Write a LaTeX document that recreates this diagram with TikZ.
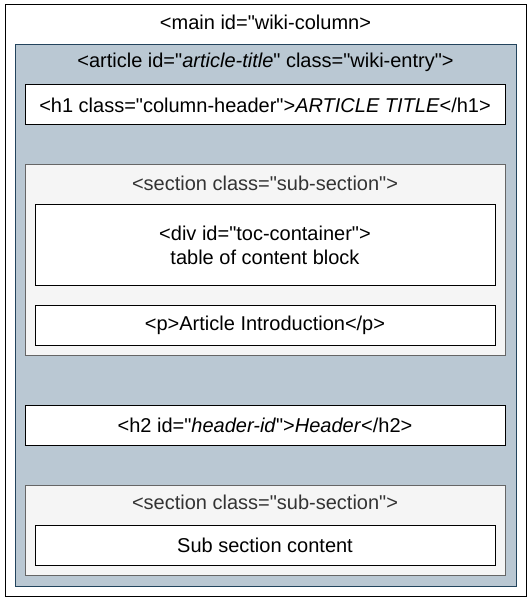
\documentclass[tikz,border=0pt]{standalone}
\usepackage{fontspec}
\setmainfont{Liberation Sans}
\definecolor{artfill}{HTML}{BAC8D3}
\definecolor{artline}{HTML}{23445D}
\definecolor{secfill}{HTML}{F5F5F5}
\definecolor{secline}{HTML}{666666}
\definecolor{sectext}{HTML}{333333}
\newcommand\qd{\textquotedbl}
\begin{document}
\begin{tikzpicture}[x=1pt,y=1pt,
  every node/.style={inner sep=0pt, outer sep=0pt, font=\fontsize{20}{24}\selectfont},
  box/.style={draw=black, fill=white, line width=1pt, anchor=north west},
  artbox/.style={draw=artline, fill=artfill, line width=1pt, anchor=north west},
  secbox/.style={draw=secline, fill=secfill, line width=1pt, anchor=north west},
  lbl/.style={text=black, align=center},
  seclbl/.style={text=sectext}]
\useasboundingbox (0,0) rectangle (531,-601);
\node[box, minimum width=521pt, minimum height=591pt] (main) at (5,-5) {};
\node[lbl] (mainlbl) at (265.5,-22) {<main id=\qd wiki-column>};
\node[artbox, minimum width=501pt, minimum height=541pt] (art) at (15,-45) {};
\node[lbl] (artlbl) at (265.5,-62) {<article id=\qd\textit{article-title}\qd\ class=\qd wiki-entry\qd>};
\node[box, minimum width=480pt, minimum height=40pt] (h1) at (25,-85) {};
\node[lbl] at (h1.center) {<h1 class=\qd column-header\qd>\textit{ARTICLE TITLE}</h1>};
\node[secbox, minimum width=480pt, minimum height=190pt] (sec1) at (25,-165) {};
\node[seclbl] (sec1lbl) at (265,-183) {<section class=\qd sub-section\qd>};
\node[box, minimum width=460pt, minimum height=80pt] (toc) at (35,-205) {};
\node[lbl] at (toc.center) {<div id=\qd toc-container\qd>\\table of content block};
\node[box, minimum width=460pt, minimum height=40pt] (intro) at (35,-305) {};
\node[lbl] at (intro.center) {<p>Article Introduction</p>};
\node[box, minimum width=480pt, minimum height=40pt] (h2) at (25,-405) {};
\node[lbl] at (h2.center) {<h2 id=\qd\textit{header-id}\qd>\textit{Header}</h2>};
\node[secbox, minimum width=480pt, minimum height=90pt] (sec2) at (25,-485) {};
\node[seclbl] (sec2lbl) at (265,-502) {<section class=\qd sub-section\qd>};
\node[box, minimum width=460pt, minimum height=40pt] (sub) at (35,-525) {};
\node[lbl] at (sub.center) {Sub section content};
\end{tikzpicture}
\end{document}
